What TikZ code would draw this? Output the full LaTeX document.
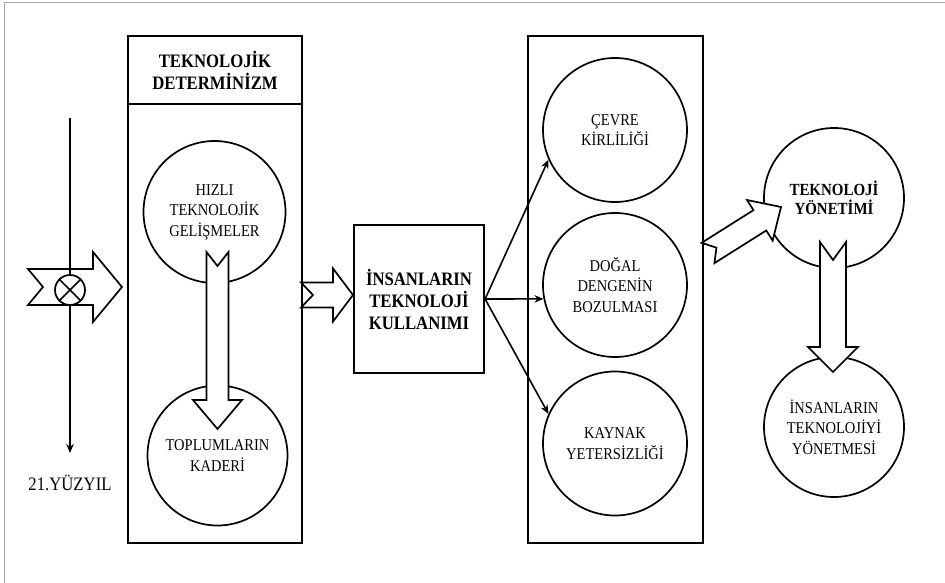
\documentclass[tikz,border=0pt]{standalone}
\usepackage{fontspec}
\setmainfont{Liberation Serif}[FakeStretch=0.88]
\usetikzlibrary{arrows.meta,calc}

% hollow block arrow with a notched tail:
% #1 tail, #2 tip, #3 shaft half-width, #4 head half-width, #5 head length, #6 notch depth
\newcommand{\hollowarrow}[6]{%
  \coordinate (ha-base) at ($(#2)!#5!(#1)$);
  \draw[blk] ($(#1)!#3!90:(#2)$) -- ($(ha-base)!#3!-90:(#1)$)
    -- ($(ha-base)!#4!-90:(#1)$) -- (#2) -- ($(ha-base)!#4!90:(#1)$)
    -- ($(ha-base)!#3!90:(#1)$) -- ($(#1)!#3!-90:(#2)$)
    -- ($(#1)!#6!(#2)$) -- cycle;
}

\begin{document}
\begin{tikzpicture}[x=1pt, y=-1pt,
  % Node styles
  panel/.style={draw, line width=2.2pt, inner sep=0pt},
  titletxt/.style={font=\fontsize{19}{22}\selectfont\bfseries, align=center},
  bubble/.style={draw, circle, line width=1.7pt, inner sep=0pt, align=center,
                 font=\fontsize{16.5}{20.5}\selectfont},
  % Arrow styles
  blk/.style={draw, fill=white, line width=1.7pt, line join=miter},
  link/.style={-{Stealth[length=9pt, width=7.5pt]}, line width=1.6pt},
]
\useasboundingbox (0,0) rectangle (945,583);
\draw[gray!70, line width=0.8pt] (945,2.5) -- (4.5,2.5) -- (4.5,583);

% === Left panel ===
\node[panel, minimum width=174pt, minimum height=507pt] (det) at (215,289.5) {};
\node[panel, titletxt, minimum width=174pt, minimum height=68pt, anchor=north]
  (detttl) at (det.north) {TEKNOLOJİK\\DETERMİNİZM};
\node[bubble, minimum size=142pt] (hizli) at (214.5,212) {HIZLI\\TEKNOLOJİK\\GELİŞMELER};
\node[bubble, minimum size=140pt] (kader) at (217.5,455.5) {TOPLUMLARIN\\KADERİ};

% === Middle box ===
\node[panel, titletxt, minimum width=130pt, minimum height=148pt]
  (kullanim) at (419,299) {İNSANLARIN\\TEKNOLOJİ\\KULLANIMI};

% === Right panel ===
\node[panel, minimum width=175pt, minimum height=507pt] (sonuc) at (615.5,289.5) {};
\node[bubble, minimum size=144pt] (cevre) at (615,130) {ÇEVRE\\KİRLİLİĞİ};
\node[bubble, minimum size=144pt] (denge) at (615,285) {DOĞAL\\DENGENİN\\BOZULMASI};
\node[bubble, minimum size=144pt] (kaynak) at (615,443.5) {KAYNAK\\YETERSİZLİĞİ};

% === Management ===
\node[bubble, minimum size=140pt, font=\fontsize{17}{19}\selectfont\bfseries]
  (yonetim) at (834,198) {TEKNOLOJİ\\YÖNETİMİ};
\node[bubble, minimum size=140pt] (yonetme) at (834,427) {İNSANLARIN\\TEKNOLOJİYİ\\YÖNETMESİ};

% === Time line ===
\coordinate (zamanbas) at (70,118);
\coordinate (zamanson) at (70,453);
\node[font=\fontsize{19}{22}\selectfont] (yuzyil) at (70,483) {21.YÜZYIL};

% === Block arrows ===
\coordinate (girisA) at (28,287);
\coordinate (girisB) at (122,287);
\hollowarrow{girisA}{girisB}{18pt}{35pt}{29pt}{15pt}

\coordinate (detA) at (301,295);
\coordinate (detB) at (353,295);
\hollowarrow{detA}{detB}{12.5pt}{26.5pt}{20pt}{12pt}

\coordinate (hizliA) at (217.5,252);
\coordinate (hizliB) at (217.5,429);
\hollowarrow{hizliA}{hizliB}{11pt}{24.5pt}{29pt}{14pt}

\coordinate (sonucA) at (708,253);
\coordinate (sonucB) at (781,207);
\hollowarrow{sonucA}{sonucB}{12pt}{24pt}{25pt}{10pt}

\coordinate (yonA) at (833,242);
\coordinate (yonB) at (833,372);
\hollowarrow{yonA}{yonB}{13pt}{25pt}{25pt}{18pt}

% time line over the entry arrow
\draw[link] (zamanbas) -- (zamanson);
\node[draw, circle, fill=white, line width=1.7pt, minimum size=30pt, inner sep=0pt] (kesisim) at (70,290) {};
\draw[line width=1.7pt] (kesisim.45) -- (kesisim.225) (kesisim.135) -- (kesisim.315);

% === Use -> effects ===
\draw[link] (kullanim.east) -- (cevre.204);
\draw[link] (kullanim.east) -- (denge.191);
\draw[link] (kullanim.east) -- (kaynak.156);

\end{tikzpicture}
\end{document}
